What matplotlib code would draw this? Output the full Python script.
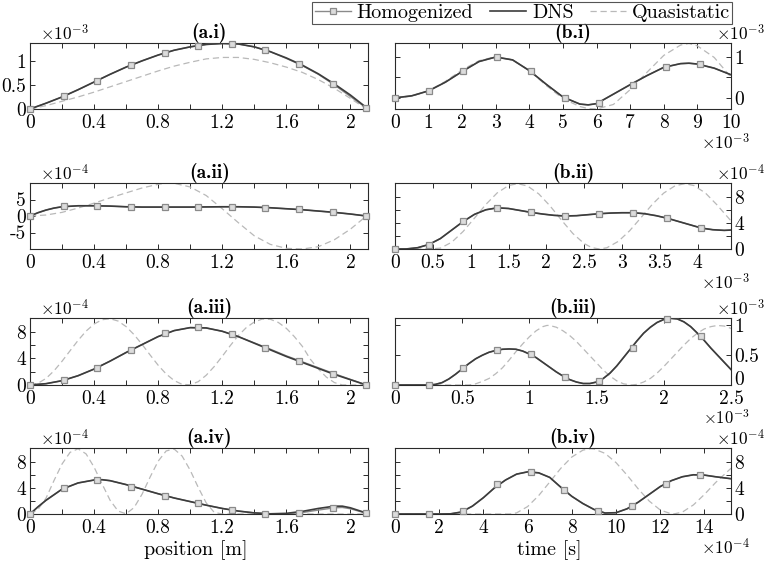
import numpy as np
import matplotlib
matplotlib.use("Agg")
import matplotlib.pyplot as plt
from matplotlib.lines import Line2D
from matplotlib.transforms import ScaledTranslation

plt.rcParams.update({
    "font.family": "serif",
    "font.serif": ["cmr10"],
    "mathtext.fontset": "cm",
    "axes.unicode_minus": False,
    "axes.formatter.use_mathtext": True,
})

# ---------------- data (values in units of the shown exponents) ----------------
# (a.i)  position [m], y x1e-3
ai_x = [0, 0.1, 0.2, 0.3, 0.4, 0.5, 0.6, 0.7, 0.8, 0.9, 1.0, 1.1, 1.2, 1.3, 1.4, 1.5, 1.6, 1.7, 1.8, 1.9, 2.0, 2.1]
ai_dns = [0, 0.12, 0.25, 0.40, 0.56, 0.72, 0.87, 1.00, 1.12, 1.22, 1.29, 1.34, 1.36, 1.35, 1.29, 1.19, 1.06, 0.91, 0.73, 0.52, 0.29, 0.03]
ai_hom = [0, 0.12, 0.25, 0.40, 0.56, 0.72, 0.87, 1.00, 1.12, 1.22, 1.29, 1.34, 1.36, 1.35, 1.29, 1.19, 1.05, 0.90, 0.72, 0.50, 0.26, 0.02]
ai_qs = [0, 0.07, 0.16, 0.25, 0.35, 0.46, 0.57, 0.68, 0.79, 0.89, 0.97, 1.04, 1.07, 1.07, 1.03, 0.96, 0.87, 0.76, 0.61, 0.43, 0.22, 0.0]
a_mk_x = [0, 0.21, 0.42, 0.63, 0.84, 1.05, 1.26, 1.47, 1.68, 1.89, 2.10]
ai_mk = [0, 0.27, 0.59, 0.91, 1.16, 1.31, 1.35, 1.22, 0.94, 0.52, 0.02]

# (a.ii) y x1e-4
aii_x = [0, 0.05, 0.1, 0.15, 0.2, 0.3, 0.4, 0.5, 0.6, 0.7, 0.8, 0.9, 1.0, 1.1, 1.2, 1.3, 1.4, 1.5, 1.6, 1.7, 1.8, 1.9, 2.0, 2.1]
aii_dns = [0, 1.0, 1.8, 2.4, 2.8, 3.1, 3.1, 3.0, 2.8, 2.7, 2.7, 2.7, 2.7, 2.75, 2.8, 2.8, 2.7, 2.5, 2.2, 1.9, 1.5, 1.1, 0.6, 0]
aii_hom = aii_dns
aii_qs_x = [0, 0.1, 0.2, 0.3, 0.4, 0.5, 0.6, 0.7, 0.8, 0.85, 0.9, 1.0, 1.1, 1.2, 1.3, 1.4, 1.5, 1.6, 1.7, 1.8, 1.9, 2.0, 2.1]
aii_qs = [0, 0.3, 1.1, 2.4, 3.9, 5.5, 7.0, 8.5, 9.6, 10.0, 9.9, 8.8, 6.2, 2.2, -2.0, -6.0, -8.6, -9.8, -10.0, -9.3, -7.2, -4.0, 0]
aii_mk = [0, 2.95, 3.05, 2.75, 2.7, 2.7, 2.8, 2.55, 2.0, 1.15, 0]

# (a.iii) y x1e-4
aiii_dns = [0, 0.2, 0.65, 1.4, 2.4, 3.6, 4.9, 6.1, 7.3, 8.2, 8.65, 8.6, 8.1, 7.3, 6.3, 5.3, 4.3, 3.4, 2.5, 1.6, 0.8, 0]
aiii_hom = [0, 0.2, 0.65, 1.4, 2.4, 3.6, 4.9, 6.1, 7.3, 8.2, 8.65, 8.6, 8.1, 7.3, 6.35, 5.4, 4.4, 3.5, 2.6, 1.7, 0.85, 0]
aiii_qs_x = [0, 0.05, 0.1, 0.15, 0.2, 0.25, 0.3, 0.35, 0.4, 0.45, 0.5, 0.55, 0.6, 0.65, 0.7, 0.75, 0.8, 0.85, 0.9, 0.95,
             1.0, 1.05, 1.1, 1.15, 1.2, 1.25, 1.3, 1.35, 1.4, 1.45, 1.5, 1.55, 1.6, 1.65, 1.7, 1.75, 1.8, 1.85, 1.9, 1.95, 2.0, 2.05, 2.1]
aiii_qs = [0, 0.26, 0.99, 2.14, 3.58, 5.16, 6.72, 8.12, 9.19, 9.84, 9.99, 9.64, 8.80, 7.58, 6.11, 4.52, 2.98, 1.66, 0.67, 0.09,
           0.04, 0.50, 1.47, 2.78, 4.32, 5.93, 7.44, 8.65, 9.50, 9.94, 9.91, 9.43, 8.55, 7.30, 5.83, 3.89, 2.41, 1.19, 0.37, 0.01, 0.0, 0.0, 0.0]
aiii_mk = [0, 0.7, 2.6, 5.3, 7.8, 8.7, 7.7, 5.6, 3.6, 1.6, 0]

# (a.iv) y x1e-4
aiv_x = [0, 0.05, 0.1, 0.2, 0.3, 0.4, 0.45, 0.5, 0.6, 0.7, 0.8, 0.9, 1.0, 1.1, 1.2, 1.3, 1.4, 1.5, 1.6, 1.7, 1.8, 1.9, 1.95, 2.0, 2.05, 2.1]
aiv_dns = [0, 1.1, 2.1, 3.8, 4.75, 5.2, 5.25, 5.1, 4.5, 3.8, 3.1, 2.45, 1.9, 1.35, 0.85, 0.45, 0.17, 0.03, 0.1, 0.4, 0.85, 1.2, 1.2, 0.95, 0.55, 0.15]
aiv_hom = [0, 1.1, 2.1, 3.8, 4.75, 5.2, 5.25, 5.1, 4.5, 3.8, 3.1, 2.45, 1.9, 1.35, 0.85, 0.45, 0.17, 0.02, 0.03, 0.22, 0.6, 0.95, 1.0, 0.8, 0.45, 0.12]
aiv_qs_x = [0, 0.05, 0.1, 0.15, 0.2, 0.25, 0.3, 0.35, 0.4, 0.45, 0.5, 0.55, 0.6, 0.65, 0.7, 0.75, 0.8, 0.85, 0.9, 0.95,
            1.0, 1.05, 1.1, 1.15, 1.2, 1.6, 2.1]
aiv_qs = [0, 0.69, 2.42, 5.13, 7.65, 9.43, 9.98, 9.2, 7.17, 4.6, 2.1, 0.45, 0.03, 0.99, 3.05, 5.66, 8.08, 9.65, 9.94, 8.85,
          6.7, 4.08, 1.7, 0.25, 0.0, 0.0, 0.0]
aiv_mk = [0, 3.95, 5.15, 4.2, 2.8, 1.65, 0.6, 0.0, 0.12, 0.92, 0.1]

# (b.i) time x1e-3, y x1e-3
bi_x = [0, 0.5, 1, 1.5, 2, 2.5, 3, 3.5, 4, 4.5, 5, 5.5, 5.75, 6, 6.5, 7, 7.5, 8, 8.5, 8.75, 9, 9.5, 10]
bi_dns = [0, 0.05, 0.17, 0.38, 0.64, 0.88, 0.99, 0.92, 0.66, 0.33, 0.02, -0.15, -0.17, -0.14, 0.09, 0.32, 0.54, 0.74, 0.83, 0.84, 0.82, 0.72, 0.56]
bi_hom = bi_dns
bi_qs = [0, 0.04, 0.17, 0.40, 0.68, 0.90, 1.0, 0.92, 0.66, 0.30, -0.02, -0.21, -0.26, -0.27, -0.16, 0.20, 0.62, 1.03, 1.28, 1.32, 1.26, 0.98, 0.50]
bi_mk_x = [0, 1.01, 2.02, 3.03, 4.04, 5.05, 6.06, 7.07, 8.08, 9.09]
bi_mk = [0, 0.17, 0.65, 1.0, 0.64, 0.0, -0.13, 0.32, 0.75, 0.81]

# (b.ii) time x1e-3, y x1e-4
bii_x = [0, 0.15, 0.3, 0.45, 0.6, 0.75, 0.9, 1.05, 1.2, 1.35, 1.5, 1.65, 1.8, 1.95, 2.1, 2.25, 2.4, 2.55, 2.7, 2.85,
         3.0, 3.15, 3.3, 3.45, 3.6, 3.75, 3.9, 4.05, 4.2, 4.35, 4.44]
bii_dns = [0, 0.01, 0.2, 0.7, 1.6, 2.9, 4.2, 5.3, 6.0, 6.3, 6.2, 5.9, 5.6, 5.35, 5.15, 5.05, 5.1, 5.25, 5.4, 5.5,
           5.55, 5.55, 5.4, 5.1, 4.7, 4.2, 3.7, 3.2, 2.95, 2.85, 2.9]
bii_hom = bii_dns
bii_qs_x = [0, 0.3, 0.45, 0.6, 0.75, 0.9, 1.05, 1.2, 1.35, 1.5, 1.62, 1.75, 1.9, 2.05, 2.2, 2.35, 2.5, 2.6, 2.7, 2.8,
            2.95, 3.1, 3.25, 3.4, 3.55, 3.7, 3.83, 3.95, 4.1, 4.25, 4.44]
bii_qs = [0, 0, 0, 0.13, 1.04, 2.68, 4.72, 6.81, 8.58, 9.71, 10.0, 9.65, 8.43, 6.58, 4.42, 2.37, 0.83, 0.21, 0, 0.19,
          1.16, 2.78, 4.79, 6.83, 8.55, 9.67, 10.0, 9.71, 8.59, 6.81, 4.3]
bii_mk_x = [0, 0.449, 0.898, 1.347, 1.796, 2.245, 2.694, 3.143, 3.592, 4.041]
bii_mk = [0, 0.66, 4.3, 6.3, 5.6, 5.05, 5.4, 5.55, 4.75, 3.2]

# (b.iii) time x1e-3, y x1e-3
biii_x = [0, 0.05, 0.1, 0.15, 0.2, 0.25, 0.3, 0.35, 0.4, 0.45, 0.5, 0.55, 0.6, 0.65, 0.7, 0.75, 0.8, 0.85, 0.9, 0.95,
          1.0, 1.05, 1.1, 1.15, 1.2, 1.25, 1.3, 1.35, 1.4, 1.45, 1.5, 1.55, 1.6, 1.65, 1.7, 1.75, 1.8, 1.85, 1.9, 1.95,
          2.0, 2.05, 2.1, 2.15, 2.2, 2.25, 2.3, 2.35, 2.4, 2.45, 2.5]
biii_dns = [0, 0, 0, 0, 0, 0, 0.01, 0.04, 0.1, 0.18, 0.27, 0.36, 0.44, 0.5, 0.55, 0.58, 0.6, 0.605, 0.6, 0.57,
            0.52, 0.46, 0.38, 0.3, 0.22, 0.15, 0.09, 0.05, 0.025, 0.025, 0.05, 0.11, 0.2, 0.32, 0.46, 0.6, 0.74, 0.87, 0.97, 1.05,
            1.1, 1.12, 1.11, 1.06, 0.98, 0.87, 0.75, 0.62, 0.5, 0.38, 0.26]
biii_hom = biii_dns
biii_qs_x = [0, 0.5, 0.55, 0.6, 0.65, 0.7, 0.75, 0.8, 0.85, 0.9, 0.95, 1.0, 1.05, 1.1, 1.13, 1.15, 1.2, 1.25, 1.3, 1.35,
             1.4, 1.45, 1.5, 1.55, 1.6, 1.65, 1.7, 1.76, 1.8, 1.85, 1.9, 1.95, 2.0, 2.05, 2.1, 2.15, 2.2, 2.25, 2.3, 2.35,
             2.4, 2.45, 2.5]
biii_qs = [0, 0, 0, 0.02, 0.06, 0.11, 0.19, 0.29, 0.42, 0.56, 0.69, 0.81, 0.91, 0.98, 1.0, 1.0, 0.97, 0.91, 0.83, 0.73,
           0.61, 0.49, 0.37, 0.25, 0.15, 0.07, 0.02, 0, 0.01, 0.05, 0.11, 0.2, 0.31, 0.43, 0.55, 0.67, 0.78, 0.87, 0.94, 0.98,
           1.0, 0.99, 0.95]
biii_mk_x = [0, 0.253, 0.506, 0.759, 1.012, 1.265, 1.518, 1.771, 2.024, 2.277]
biii_mk = [0, 0, 0.28, 0.58, 0.52, 0.14, 0.07, 0.62, 1.11, 0.82]

# (b.iv) time x1e-4, y x1e-4
biv_x = [0, 1, 2, 2.5, 3, 3.5, 4, 4.5, 5, 5.5, 6, 6.5, 7, 7.5, 8, 8.5, 9, 9.5, 10, 10.5, 11, 11.5, 12, 12.5, 13, 13.5, 14, 14.5, 15.2]
biv_dns = [0, 0, 0, 0.02, 0.3, 1.2, 2.5, 4.0, 5.2, 6.1, 6.45, 6.3, 5.6, 4.1, 2.7, 1.6, 0.7, 0.15, 0.2, 0.8, 1.8, 3.0, 4.2, 5.1, 5.7, 6.0, 5.95, 5.7, 5.4]
biv_hom = biv_dns
biv_qs_x = [0, 5.2, 5.5, 6, 6.5, 7, 7.5, 8, 8.5, 8.85, 9, 9.5, 10, 10.5, 11, 11.5, 12, 12.5, 12.6, 13, 13.5, 14, 14.5, 15.2]
biv_qs = [0, 0, 0.17, 1.14, 2.82, 4.89, 6.99, 8.72, 9.77, 10.0, 9.96, 9.28, 7.86, 5.94, 3.86, 1.98, 0.61, 0.02, 0, 0.29, 1.39, 3.0, 4.8, 7.0]
biv_mk_x = [0, 1.533, 3.066, 4.599, 6.132, 7.665, 9.198, 10.731, 12.264, 13.797]
biv_mk = [0, 0, 0.5, 4.55, 6.45, 3.6, 0.4, 1.25, 4.6, 6.0]

titles = ["(a.i)", "(a.ii)", "(a.iii)", "(a.iv)", "(b.i)", "(b.ii)", "(b.iii)", "(b.iv)"]
legend_labels = ["Homogenized", "DNS", "Quasistatic"]

# ---------------- styles ----------------
C_DNS = "#3c3c3c"
C_HOM = "#8a8a8a"
C_QS = "#b9b9b9"
MFC = "#dcdcdc"
FS = 14
FS_EXP = 12.5

W, H = 767, 569
fig = plt.figure(figsize=(W / 100, H / 100), dpi=100)


def pos(x0, x1, y0, y1):
    return [x0 / W, 1 - y1 / H, (x1 - x0) / W, (y1 - y0) / H]


cols = [(30, 368), (395, 731)]
rows = [(43, 109), (183, 249), (318, 385), (448, 514)]


def draw(ax, x, dns, hom, mkx, mky, qx, qy):
    ax.plot(qx, qy, color=C_QS, lw=0.9, ls=(0, (5, 3)), zorder=2)
    ax.plot(x, hom, color=C_HOM, lw=1.0, zorder=3)
    ax.plot(x, dns, color=C_DNS, lw=1.2, zorder=4)
    ax.plot(mkx, mky, ls="none", marker="s", ms=4, mfc=MFC, mec=C_HOM, mew=0.9, zorder=5, clip_on=False)


def style(ax, right=False):
    for s in ax.spines.values():
        s.set_color("#2a2a2a")
        s.set_linewidth(0.8)
    ax.tick_params(which="both", direction="in", length=3.5, width=0.7, top=True, bottom=True,
                   left=True, right=True, labelsize=FS, colors="#2a2a2a", labelcolor="black")
    ax.tick_params(axis="x", pad=3.5)
    if right:
        ax.tick_params(axis="y", labelleft=False, labelright=True, pad=2.5)
    else:
        ax.tick_params(axis="y", pad=3)


def expo(ax, txt, right=False):
    x = 0.955 if right else 0.03
    return ax.text(x, 1.0, txt, transform=ax.transAxes, ha="left", va="bottom", fontsize=FS_EXP)


axes = []
for c in range(2):
    for r in range(4):
        axes.append(fig.add_axes(pos(cols[c][0], cols[c][1], rows[r][0], rows[r][1])))

a1, a2, a3, a4, b1, b2, b3, b4 = axes

draw(a1, ai_x, ai_dns, ai_hom, a_mk_x, ai_mk, ai_x, ai_qs)
draw(a2, aii_x, aii_dns, aii_hom, a_mk_x, aii_mk, aii_qs_x, aii_qs)
draw(a3, ai_x, aiii_dns, aiii_hom, a_mk_x, aiii_mk, aiii_qs_x, aiii_qs)
draw(a4, aiv_x, aiv_dns, aiv_hom, a_mk_x, aiv_mk, aiv_qs_x, aiv_qs)
draw(b1, bi_x, bi_dns, bi_hom, bi_mk_x, bi_mk, bi_x, bi_qs)
draw(b2, bii_x, bii_dns, bii_hom, bii_mk_x, bii_mk, bii_qs_x, bii_qs)
draw(b3, biii_x, biii_dns, biii_hom, biii_mk_x, biii_mk, biii_qs_x, biii_qs)
draw(b4, biv_x, biv_dns, biv_hom, biv_mk_x, biv_mk, biv_qs_x, biv_qs)

# left column axes
a_xt = [0, 0.4, 0.8, 1.2, 1.6, 2.0]
a_xt_lab = ["0", "0.4", "0.8", "1.2", "1.6", "2"]
a_xt_min = [0.2, 0.6, 1.0, 1.4, 1.8]
for ax in (a1, a2, a3, a4):
    ax.set_xlim(0, 2.11)
    ax.set_xticks(a_xt, a_xt_lab)
    ax.set_xticks(a_xt_min, minor=True)
    style(ax)

a1.set_ylim(0, 1.37)
a1.set_yticks([0, 0.5, 1], ["0", "0.5", "1"])
a2.set_ylim(-10, 10)
a2.set_yticks([-5, 0, 5], ["-5", "0", "5"])
for ax in (a3, a4):
    ax.set_ylim(0, 10.1)
    ax.set_yticks([0, 4, 8], ["0", "4", "8"])
    ax.set_yticks([2, 6], minor=True)

expo(a1, r"$\times10^{-3}$")
for ax in (a2, a3, a4):
    expo(ax, r"$\times10^{-4}$")

# right column axes
b1.set_xlim(0, 10)
b1.set_xticks(range(11), [str(i) for i in range(11)])
b1.set_ylim(-0.27, 1.33)
b1.set_yticks([0, 1], ["0", "1"])
b1.set_yticks([0.5], minor=True)

b2.set_xlim(0, 4.44)
b2.set_xticks([0, 0.5, 1, 1.5, 2, 2.5, 3, 3.5, 4], ["0", "0.5", "1", "1.5", "2", "2.5", "3", "3.5", "4"])
b2.set_ylim(0, 10.1)
b2.set_yticks([0, 4, 8], ["0", "4", "8"])
b2.set_yticks([2, 6], minor=True)

b3.set_xlim(0, 2.5)
b3.set_xticks([0, 0.5, 1, 1.5, 2, 2.5], ["0", "0.5", "1", "1.5", "2", "2.5"])
b3.set_ylim(0, 1.125)
b3.set_yticks([0, 0.5, 1], ["0", "0.5", "1"])

b4.set_xlim(0, 15.2)
b4.set_xticks([0, 2, 4, 6, 8, 10, 12, 14], ["0", "2", "4", "6", "8", "10", "12", "14"])
b4.set_ylim(0, 10.1)
b4.set_yticks([0, 4, 8], ["0", "4", "8"])
b4.set_yticks([2, 6], minor=True)

for ax in (b1, b2, b3, b4):
    style(ax, right=True)

yexp = [expo(b1, r"$\times10^{-3}$", right=True),
        expo(b2, r"$\times10^{-4}$", right=True),
        expo(b3, r"$\times10^{-3}$", right=True),
        expo(b4, r"$\times10^{-4}$", right=True)]
xexp_txt = [r"$\times10^{-3}$", r"$\times10^{-3}$", r"$\times10^{-3}$", r"$\times10^{-4}$"]

# titles (bold Computer Modern)
for ax, t in zip(axes, titles):
    ax.set_title(t, fontsize=14, family="cmb10", x=0.53, pad=3)

# axis labels
a4.text(0.49, -0.55, "position [m]", transform=a4.transAxes, ha="center", va="center", fontsize=FS + 0.5)
b4.text(0.46, -0.55, "time [s]", transform=b4.transAxes, ha="center", va="center", fontsize=FS + 0.5)

# legend
handles = [
    Line2D([], [], color=C_HOM, lw=1.0, marker="s", ms=4, mfc=MFC, mec=C_HOM, mew=0.9),
    Line2D([], [], color=C_DNS, lw=1.2),
    Line2D([], [], color=C_QS, lw=0.9, ls=(0, (5, 3))),
]
leg = fig.legend(handles, legend_labels, ncol=3, loc="upper right", bbox_to_anchor=(732 / W, 1 - 1.5 / H),
                 frameon=True, fancybox=False, edgecolor="#2a2a2a", fontsize=FS + 0.5,
                 borderpad=0.1, handlelength=1.8, handletextpad=0.3, columnspacing=0.8, borderaxespad=0)
leg.get_frame().set_linewidth(0.8)

fig.canvas.draw()
rend = fig.canvas.get_renderer()

# (b.iii): lift the corner "0" label a little so it clears the "2.5" label
zero_lab = [t for t in b3.yaxis.get_ticklabels(which="major") if t.get_text() == "0"]
last_x = [t for t in b3.get_xticklabels() if t.get_text() == "2.5"]
if zero_lab and last_x:
    zl, xl = zero_lab[0], last_x[0]
    base_tr = zl.get_transform()
    shift = 0
    while zl.get_window_extent(rend).overlaps(xl.get_window_extent(rend)) and shift < 9:
        shift += 1
        zl.set_transform(base_tr + ScaledTranslation(0, shift / 100, fig.dpi_scale_trans))

# x-axis exponent labels of the right column, just below the tick labels
bax = [b1, b2, b3, b4]
for i, ax in enumerate(bax):
    lab_bottom = min(t.get_window_extent(rend).y0 for t in ax.get_xticklabels() if t.get_visible())
    x_right = ax.get_position().x1 + 19 / W
    fs = FS_EXP
    txt = fig.text(x_right, (lab_bottom - 0.5) / H, xexp_txt[i], ha="right", va="top", fontsize=fs)
    if i < 3:
        limit = yexp[i + 1].get_window_extent(rend).y1 + 0.5
        while txt.get_window_extent(rend).y0 < limit and fs > 10.5:
            fs -= 0.5
            txt.set_fontsize(fs)

fig.savefig("out.png", dpi=100)
